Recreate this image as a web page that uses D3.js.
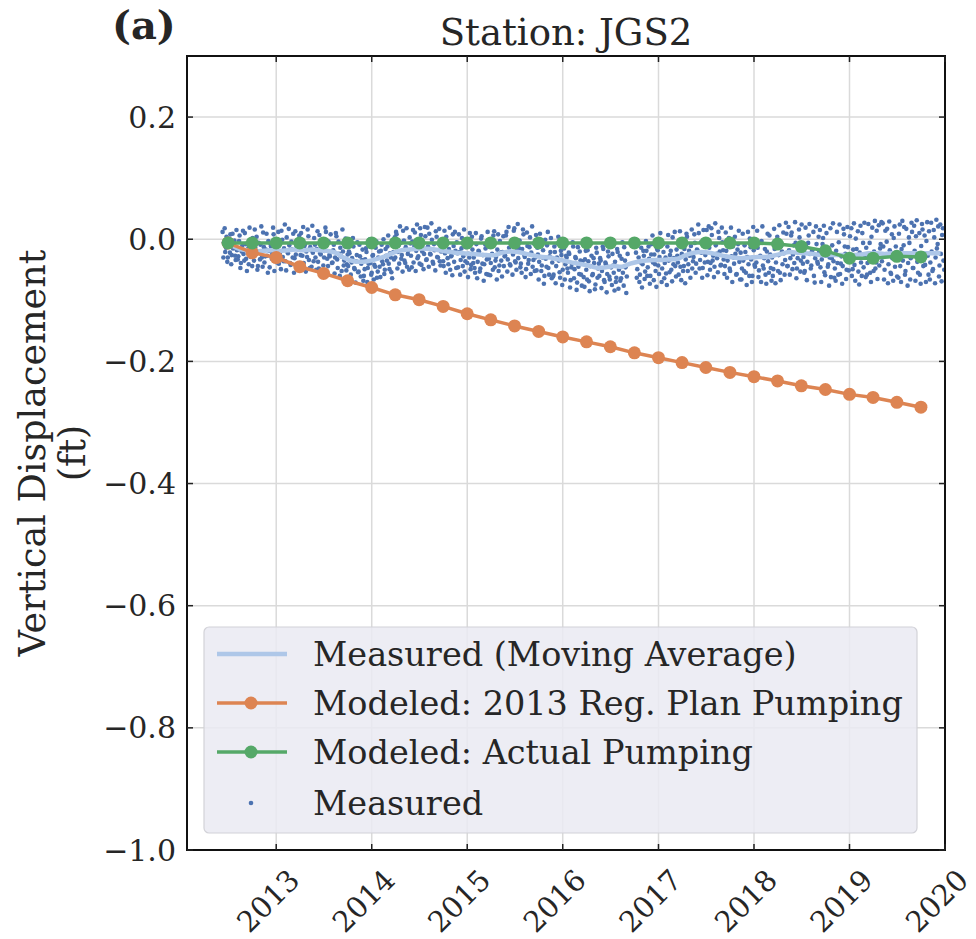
<!DOCTYPE html>
<html><head><meta charset="utf-8">
<script src="https://cdn.jsdelivr.net/npm/d3@7"></script>
<style>
body{margin:0;background:#fff}
text{font-family:"DejaVu Serif",serif;fill:#262626}
</style>
</head><body>
<svg id="c" width="976" height="939"></svg>
<script>
// ---------------- DATA ----------------
const yearTicks = [2013, 2014, 2015, 2016, 2017, 2018, 2019, 2020];
const yTicks = [0.2, 0.0, -0.2, -0.4, -0.6, -0.8, -1.0];

const modelDates = ["2012-07-01","2012-10-01","2013-01-01","2013-04-01","2013-07-01","2013-10-01",
  "2014-01-01","2014-04-01","2014-07-01","2014-10-01","2015-01-01","2015-04-01","2015-07-01","2015-10-01",
  "2016-01-01","2016-04-01","2016-07-01","2016-10-01","2017-01-01","2017-04-01","2017-07-01","2017-10-01",
  "2018-01-01","2018-04-01","2018-07-01","2018-10-01","2019-01-01","2019-04-01","2019-07-01","2019-10-01"];

const regPlanValues = [-0.006,-0.022,-0.030,-0.045,-0.056,-0.068,-0.079,-0.091,-0.099,-0.110,
  -0.122,-0.132,-0.142,-0.151,-0.160,-0.168,-0.176,-0.186,-0.194,-0.202,
  -0.210,-0.218,-0.225,-0.232,-0.240,-0.246,-0.254,-0.259,-0.267,-0.275];

const actualValues = [-0.006,-0.006,-0.006,-0.006,-0.006,-0.006,-0.006,-0.006,-0.006,-0.006,
  -0.006,-0.006,-0.006,-0.006,-0.006,-0.006,-0.006,-0.006,-0.006,-0.006,
  -0.006,-0.006,-0.006,-0.008,-0.012,-0.019,-0.031,-0.031,-0.028,-0.029];

// moving average, monthly from 2012-06
const maStart = "2012-06-15";
const maValues = [0.000,-0.010,-0.016,-0.018,-0.020,-0.019,-0.018,
  -0.019,-0.018,-0.017,-0.018,-0.017,-0.018,-0.019,-0.022,-0.030,-0.035,-0.037,-0.036,
  -0.033,-0.029,-0.024,-0.019,-0.017,-0.016,-0.015,-0.016,-0.018,-0.020,-0.022,-0.023,
  -0.024,-0.025,-0.026,-0.026,-0.022,-0.020,-0.021,-0.024,-0.027,-0.029,-0.030,-0.033,
  -0.036,-0.039,-0.041,-0.044,-0.047,-0.046,-0.044,-0.045,-0.040,-0.037,-0.035,-0.034,
  -0.034,-0.033,-0.032,-0.026,-0.022,-0.021,-0.022,-0.025,-0.028,-0.030,-0.031,-0.030,
  -0.029,-0.029,-0.027,-0.024,-0.021,-0.022,-0.023,-0.024,-0.026,-0.026,-0.026,-0.026,
  -0.026,-0.025,-0.023,-0.023,-0.024,-0.023,-0.023,-0.023,-0.023,-0.023,-0.023,-0.023];

// measured, two interleaved runs, every 5 days
const measuredStepDays = 5;
const measuredStartA = "2012-06-10";
const measuredValuesA = [
 0.012,-0.005,-0.021,0.004,-0.030,-0.012,0.008,-0.026,-0.015,-0.002,-0.034,-0.018,
 -0.028,0.006,-0.039,-0.011,-0.024,0.010,-0.032,-0.019,-0.041,-0.007,-0.026,0.002,
 -0.035,-0.014,0.004,-0.044,-0.022,-0.009,-0.030,0.011,-0.038,-0.017,-0.027,-0.003,
 -0.046,-0.012,-0.024,0.008,-0.033,-0.019,-0.005,-0.040,-0.021,0.014,-0.029,-0.015,
 -0.036,0.003,-0.023,-0.010,-0.042,-0.017,0.009,-0.031,-0.025,-0.006,-0.048,-0.014,
 0.010,-0.027,-0.039,-0.008,-0.020,0.016,-0.034,-0.013,-0.045,-0.022,0.002,-0.030,
 -0.016,-0.037,0.007,-0.025,-0.011,-0.043,-0.019,0.012,-0.032,-0.004,-0.028,-0.021,
 -0.038,-0.009,-0.030,0.005,-0.047,-0.024,-0.014,-0.052,-0.020,-0.035,0.001,-0.041,
 -0.044,-0.023,-0.058,-0.031,-0.012,-0.049,-0.036,-0.005,-0.053,-0.028,-0.040,-0.017,
 -0.060,-0.033,-0.021,-0.047,-0.008,-0.039,-0.055,-0.026,-0.042,-0.014,-0.063,-0.030,
 -0.045,-0.019,-0.036,0.000,-0.050,-0.027,-0.012,-0.040,-0.023,-0.054,-0.008,-0.033,
 -0.030,0.008,-0.021,-0.040,-0.006,-0.026,0.014,-0.035,-0.013,-0.045,-0.018,0.003,
 -0.027,-0.004,-0.038,0.011,-0.019,-0.031,-0.009,0.018,-0.042,-0.015,-0.024,0.005,
 -0.033,-0.012,0.009,-0.025,-0.001,-0.040,-0.018,0.013,-0.029,-0.007,-0.036,-0.020,
 -0.010,-0.044,-0.023,0.004,-0.031,-0.016,-0.050,-0.027,0.008,-0.037,-0.019,-0.005,
 -0.046,-0.021,-0.034,0.002,-0.028,-0.053,-0.013,-0.039,-0.024,0.010,-0.042,-0.017,
 -0.030,-0.055,-0.008,-0.037,-0.020,-0.048,0.005,-0.026,-0.041,-0.015,-0.033,-0.058,
 -0.012,-0.039,-0.024,0.006,-0.046,-0.029,-0.017,-0.052,-0.003,-0.035,-0.021,-0.044,
 -0.027,0.012,-0.033,-0.014,-0.043,-0.005,-0.025,0.018,-0.038,-0.019,-0.031,-0.002,
 -0.040,-0.016,0.008,-0.029,-0.049,-0.011,-0.034,0.003,-0.022,-0.045,-0.007,-0.030,
 -0.051,-0.025,-0.037,-0.004,-0.043,-0.018,-0.060,-0.032,-0.010,-0.047,-0.028,0.002,
 -0.038,-0.058,-0.021,-0.044,-0.007,-0.035,-0.063,-0.026,-0.050,-0.015,-0.041,-0.030,
 -0.055,-0.024,-0.067,-0.040,-0.012,-0.049,-0.031,-0.071,-0.045,-0.020,-0.058,-0.036,
 -0.062,-0.033,-0.050,-0.018,-0.069,-0.044,-0.027,-0.057,-0.039,-0.074,-0.022,-0.048,
 -0.060,-0.035,-0.052,-0.016,-0.070,-0.041,-0.057,-0.028,-0.066,-0.046,-0.024,-0.055,
 -0.037,-0.063,-0.021,-0.050,-0.068,-0.032,-0.055,-0.013,-0.046,-0.061,null,null,
 null,null,null,null,-0.022,-0.049,-0.030,-0.058,-0.014,-0.041,-0.027,-0.053,
 -0.019,-0.046,-0.032,-0.060,-0.008,-0.038,-0.025,-0.052,-0.015,-0.043,-0.029,-0.002,
 -0.048,-0.021,-0.039,-0.056,-0.012,-0.035,-0.026,-0.050,0.003,-0.031,-0.044,-0.017,
 -0.038,-0.009,-0.045,-0.024,-0.052,-0.016,-0.033,0.004,-0.041,-0.027,-0.011,-0.048,
 -0.029,-0.006,-0.040,-0.018,0.010,-0.034,-0.022,-0.047,-0.003,-0.026,0.015,-0.037,
 -0.014,-0.039,0.007,-0.027,-0.045,-0.010,-0.031,0.012,-0.020,-0.042,-0.005,-0.033,
 -0.044,-0.019,-0.035,0.002,-0.052,-0.028,-0.012,-0.040,-0.024,-0.057,-0.008,-0.037,
 -0.022,-0.048,-0.035,-0.010,-0.055,-0.029,-0.041,0.001,-0.033,-0.060,-0.018,-0.045,
 -0.038,-0.014,-0.051,-0.027,-0.003,-0.043,-0.031,-0.058,-0.020,-0.036,0.006,-0.047,
 -0.030,-0.049,-0.016,-0.038,0.004,-0.026,-0.055,-0.011,-0.041,-0.023,-0.034,0.009,
 -0.044,-0.018,-0.031,0.011,-0.025,-0.039,-0.006,-0.048,-0.021,0.003,-0.035,-0.014,
 -0.029,-0.052,-0.012,-0.037,0.006,-0.024,-0.043,-0.017,-0.060,-0.031,-0.008,-0.040,
 -0.021,-0.046,-0.033,0.002,-0.054,-0.027,-0.015,-0.041,-0.030,-0.062,-0.010,-0.036,
 -0.048,-0.019,-0.039,-0.005,-0.057,-0.028,-0.044,0.008,-0.024,-0.050,-0.013,-0.035,
 -0.032,-0.060,-0.017,-0.042,0.001,-0.029,-0.053,-0.022,-0.038,0.010,-0.046,-0.026,
 -0.014,-0.039,-0.027,-0.055,0.004,-0.033,-0.020,-0.048,0.014,-0.030,-0.043,-0.008,
 -0.036,-0.012,-0.050,-0.025,0.017,-0.041,-0.018,-0.057,-0.031,0.002,-0.045,-0.022,
 -0.028,0.009,-0.044,-0.016,-0.035,0.020,-0.052,-0.023,-0.039,-0.006,-0.031,0.012,
 -0.047,-0.019,0.005,-0.037,-0.025,-0.058,-0.011,0.016,-0.034,-0.042,-0.003,-0.027,
 0.013,-0.038,-0.020,-0.049,0.003,-0.030,-0.015,0.021,-0.043,-0.024,0.007,-0.035];

const measuredStartB = "2012-06-13";
const measuredValuesB = [
 -0.030,0.018,-0.014,-0.037,0.001,-0.022,-0.041,0.009,-0.009,-0.027,0.015,-0.033,
 -0.003,-0.047,-0.020,0.014,-0.035,-0.008,-0.052,-0.015,0.019,-0.029,-0.044,-0.012,
 0.016,-0.024,-0.050,-0.006,-0.033,0.021,-0.045,-0.013,-0.028,0.009,-0.055,-0.019,
 -0.008,-0.032,0.019,-0.052,-0.016,-0.038,0.012,-0.027,-0.049,-0.001,-0.036,0.024,
 -0.051,-0.020,0.017,-0.039,-0.004,-0.030,-0.055,0.013,-0.012,-0.043,0.006,-0.026,
 -0.040,0.020,-0.011,-0.053,-0.029,0.005,-0.047,-0.018,0.022,-0.036,-0.009,-0.050,
 0.013,-0.048,-0.023,-0.002,-0.054,-0.030,0.019,-0.010,-0.044,-0.026,0.008,-0.039,
 -0.018,-0.056,0.010,-0.033,-0.004,-0.060,-0.028,0.016,-0.043,-0.012,-0.051,-0.025,
 -0.020,-0.065,-0.038,0.002,-0.047,-0.071,-0.026,-0.054,-0.009,-0.061,-0.034,-0.068,
 -0.049,-0.015,-0.070,-0.040,0.000,-0.058,-0.027,-0.066,-0.045,-0.004,-0.053,-0.020,
 -0.062,-0.009,-0.041,-0.057,-0.016,-0.035,0.006,-0.049,-0.030,-0.064,-0.021,0.003,
 0.012,-0.048,-0.010,0.021,-0.032,-0.053,-0.002,-0.039,0.018,-0.024,-0.050,-0.007,
 -0.046,0.015,-0.011,-0.052,0.024,-0.028,-0.040,0.007,-0.020,-0.049,0.020,-0.034,
 0.019,-0.045,-0.024,0.026,-0.037,-0.008,-0.051,0.004,-0.030,0.017,-0.043,-0.012,
 -0.036,0.014,-0.055,-0.004,-0.041,0.019,-0.028,-0.059,-0.011,0.012,-0.047,-0.023,
 0.008,-0.058,-0.015,-0.044,0.016,-0.036,-0.005,-0.062,-0.030,-0.049,0.004,-0.039,
 -0.047,0.010,-0.064,-0.019,-0.053,0.001,-0.040,-0.068,-0.008,-0.057,0.012,-0.032,
 -0.059,-0.004,-0.050,0.013,-0.035,-0.066,0.008,-0.043,-0.022,-0.061,0.005,-0.028,
 0.006,-0.053,0.020,-0.041,-0.009,-0.058,0.014,-0.036,-0.050,0.025,-0.015,-0.046,
 -0.055,0.016,-0.026,-0.062,0.011,-0.040,-0.013,-0.057,0.021,-0.034,-0.052,0.007,
 -0.014,-0.066,0.009,-0.052,-0.030,-0.073,-0.001,-0.045,0.012,-0.058,-0.021,-0.064,
 -0.061,-0.012,-0.072,-0.030,0.004,-0.054,-0.019,-0.075,-0.004,-0.066,-0.027,-0.048,
 -0.022,-0.079,-0.046,-0.005,-0.064,-0.029,-0.083,-0.013,-0.057,-0.035,-0.076,-0.009,
 -0.078,-0.019,-0.066,-0.036,-0.085,-0.007,-0.059,-0.031,-0.082,-0.014,-0.063,-0.040,
 -0.031,-0.080,-0.012,-0.067,-0.038,-0.087,-0.020,-0.061,-0.009,-0.075,-0.043,-0.084,
 -0.070,-0.016,-0.081,-0.027,-0.064,-0.005,-0.076,-0.035,-0.088,-0.024,null,null,
 null,null,null,null,-0.063,-0.008,-0.070,-0.038,-0.079,-0.019,-0.065,-0.003,
 -0.060,-0.012,-0.073,-0.025,0.006,-0.067,-0.041,-0.078,-0.018,-0.057,0.010,-0.070,
 -0.008,-0.064,-0.030,-0.075,0.007,-0.054,-0.019,-0.069,-0.041,0.012,-0.061,-0.027,
 -0.058,0.013,-0.067,-0.006,-0.044,-0.072,0.009,-0.052,-0.019,-0.063,0.016,-0.036,
 0.008,-0.055,-0.017,0.024,-0.048,-0.005,-0.063,0.015,-0.038,-0.012,-0.059,0.021,
 -0.050,0.018,-0.035,-0.062,0.026,-0.024,-0.054,0.002,-0.043,0.019,-0.018,-0.057,
 0.011,-0.063,-0.008,-0.048,0.019,-0.070,-0.030,0.004,-0.058,-0.017,0.014,-0.066,
 -0.066,0.009,-0.052,-0.021,-0.075,0.012,-0.060,-0.013,-0.070,0.020,-0.042,-0.004,
 0.014,-0.062,-0.006,-0.070,0.021,-0.048,-0.016,-0.073,0.009,-0.055,-0.025,-0.068,
 -0.060,0.017,-0.072,-0.003,-0.052,0.023,-0.067,-0.020,0.011,-0.058,0.027,-0.044,
 0.020,-0.058,0.006,-0.049,-0.010,0.028,-0.064,-0.031,0.016,-0.053,0.024,-0.040,
 -0.055,0.019,-0.067,-0.006,0.025,-0.048,-0.019,0.012,-0.071,0.021,-0.037,0.004,
 0.015,-0.070,-0.008,0.022,-0.059,0.010,-0.045,-0.076,0.018,-0.031,0.026,-0.063,
 -0.068,0.012,-0.058,0.024,-0.040,-0.073,0.017,-0.012,-0.065,0.020,-0.051,0.005,
 0.018,-0.049,0.026,-0.068,-0.016,0.013,-0.074,0.022,-0.060,-0.006,0.027,-0.062,
 -0.058,0.025,-0.006,-0.070,0.019,-0.052,0.030,-0.038,-0.065,0.023,-0.015,0.028,
 0.026,-0.066,0.014,-0.004,-0.072,0.029,-0.055,0.008,-0.068,0.021,-0.012,-0.061,
 -0.063,0.024,-0.070,0.030,-0.010,-0.058,0.017,-0.076,0.003,-0.066,0.027,-0.047,
 0.022,-0.068,0.031,-0.055,0.010,-0.073,0.025,-0.044,0.006,-0.070,0.028,-0.058,
 -0.066,0.027,-0.052,0.015,-0.072,0.032,-0.008,-0.061,0.024,-0.069,0.018,-0.050];

const seriesNames = ["Measured (Moving Average)", "Modeled: 2013 Reg. Plan Pumping", "Modeled: Actual Pumping", "Measured"];
const colors = {ma: "#aec7e8", reg: "#dd8452", act: "#55a868", meas: "#4c72b0"};

// ---------------- CHART ----------------
const svg = d3.select("#c");
const L = 187, R = 945, T = 56, B = 850;
const parse = d3.utcParse("%Y-%m-%d");
const x = d3.scaleUtc().domain([Date.UTC(2012,0,26), Date.UTC(2020,0,1)]).range([L, R]);
const y = d3.scaleLinear().domain([-1.0, 0.3]).range([B, T]);
const fmt = v => d3.format(".1f")(v).replace("-", "\u2212");

svg.append("defs").append("clipPath").attr("id","clip")
  .append("rect").attr("x",L).attr("y",T).attr("width",R-L).attr("height",B-T);

// grid
const g = svg.append("g");
g.selectAll(".gx").data(yearTicks).join("line")
  .attr("x1", d => x(Date.UTC(d,0,1))).attr("x2", d => x(Date.UTC(d,0,1)))
  .attr("y1", T).attr("y2", B).attr("stroke", "#dadada").attr("stroke-width", 1.5);
g.selectAll(".gy").data(yTicks).join("line")
  .attr("x1", L).attr("x2", R).attr("y1", d => y(d)).attr("y2", d => y(d))
  .attr("stroke", "#dadada").attr("stroke-width", 1.5);

const plot = svg.append("g").attr("clip-path","url(#clip)");

// measured scatter
function toPts(start, vals) {
  const s = parse(start);
  return vals.map((v,i) => ({d: d3.utcDay.offset(s, i*measuredStepDays), v})).filter(p => p.v !== null);
}
const meas = toPts(measuredStartA, measuredValuesA).concat(toPts(measuredStartB, measuredValuesB));
plot.append("g").selectAll("circle").data(meas).join("circle")
  .attr("cx", p => x(p.d)).attr("cy", p => y(p.v)).attr("r", 2.3).attr("fill", colors.meas);

// moving average
const maS = parse(maStart);
const ma = maValues.map((v,i) => ({d: d3.utcMonth.offset(maS, i), v}));
plot.append("path").datum(ma)
  .attr("d", d3.line().x(p => x(p.d)).y(p => y(p.v)).curve(d3.curveCatmullRom))
  .attr("fill","none").attr("stroke", colors.ma).attr("stroke-width", 4.5).attr("stroke-linejoin","round");

// modeled lines
function modeled(vals, color) {
  const pts = modelDates.map((s,i) => ({d: parse(s), v: vals[i]}));
  const gg = plot.append("g");
  gg.append("path").datum(pts).attr("d", d3.line().x(p => x(p.d)).y(p => y(p.v)))
    .attr("fill","none").attr("stroke", color).attr("stroke-width", 3.5);
  gg.selectAll("circle").data(pts).join("circle")
    .attr("cx", p => x(p.d)).attr("cy", p => y(p.v)).attr("r", 6.5).attr("fill", color);
}
modeled(regPlanValues, colors.reg);
modeled(actualValues, colors.act);

// legend
const lg = svg.append("g");
lg.append("rect").attr("x", 204).attr("y", 627).attr("width", 713).attr("height", 206).attr("rx", 5)
  .attr("fill", "#eaeaf2").attr("fill-opacity", 0.85).attr("stroke", "#d2d2d8").attr("stroke-width", 1.2);
const rowsY = [654, 703, 752, 803];
const kinds = ["ma","reg","act","meas"];
kinds.forEach((k,i) => {
  const yy = rowsY[i];
  if (k === "meas") {
    lg.append("circle").attr("cx", 251).attr("cy", yy).attr("r", 2.3).attr("fill", colors.meas);
  } else {
    lg.append("line").attr("x1", 217).attr("x2", 287).attr("y1", yy).attr("y2", yy)
      .attr("stroke", colors[k]).attr("stroke-width", k==="ma"?4.5:3.5);
    if (k !== "ma") lg.append("circle").attr("cx", 251).attr("cy", yy).attr("r", 6.5).attr("fill", colors[k]);
  }
  lg.append("text").attr("x", 313).attr("y", yy).attr("dominant-baseline","central")
    .attr("font-size", 33.5).text(seriesNames[i]);
});

// frame
svg.append("rect").attr("x",L).attr("y",T).attr("width",R-L).attr("height",B-T)
  .attr("fill","none").attr("stroke","#111").attr("stroke-width",2);

// ticks (inward, all four sides)
const tk = svg.append("g").attr("stroke","#222").attr("stroke-width",1.5);
yearTicks.forEach(yr => {
  const xx = x(Date.UTC(yr,0,1));
  tk.append("line").attr("x1",xx).attr("x2",xx).attr("y1",B).attr("y2",B-6);
  tk.append("line").attr("x1",xx).attr("x2",xx).attr("y1",T).attr("y2",T+6);
});
yTicks.forEach(v => {
  tk.append("line").attr("x1",L).attr("x2",L+6).attr("y1",y(v)).attr("y2",y(v));
  tk.append("line").attr("x1",R).attr("x2",R-6).attr("y1",y(v)).attr("y2",y(v));
});

// tick labels
svg.append("g").selectAll("text").data(yTicks).join("text")
  .attr("x", 176).attr("y", d => y(d)).attr("text-anchor","end").attr("dominant-baseline","central")
  .attr("font-size", 30).text(fmt);
svg.append("g").selectAll("text").data(yearTicks).join("text")
  .attr("transform", d => `translate(${x(Date.UTC(d,0,1)) - 8},901) rotate(-45)`)
  .attr("text-anchor","middle").attr("dominant-baseline","central")
  .attr("font-size", 29).text(d => d);

// title, panel label, y label
svg.append("text").attr("x", (L+R)/2).attr("y", 45).attr("text-anchor","middle")
  .attr("font-size", 37).text("Station: JGS2");
svg.append("text").attr("x", 112).attr("y", 39).attr("font-size", 40).attr("font-weight","bold").text("(a)");
svg.append("text").attr("transform", `translate(32,${(T+B)/2}) rotate(-90)`).attr("text-anchor","middle")
  .attr("dominant-baseline","central").attr("font-size", 36.5).text("Vertical Displacement");
svg.append("text").attr("transform", `translate(72,${(T+B)/2}) rotate(-90)`).attr("text-anchor","middle")
  .attr("dominant-baseline","central").attr("font-size", 36.5).text("(ft)");
</script>
</body></html>
